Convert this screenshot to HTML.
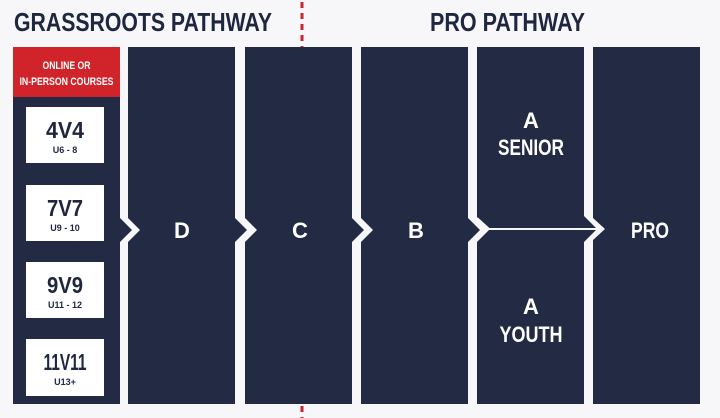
<!DOCTYPE html>
<html><head><meta charset="utf-8"><style>
html,body{margin:0;padding:0;background:#f7f7f9;}
svg{display:block}
text{font-family:"Liberation Sans Narrow","Liberation Sans",sans-serif;font-weight:bold;}
</style></head><body>
<svg width="720" height="418" viewBox="0 0 720 418">
<rect width="720" height="418" fill="#f7f7f9"/>
<line x1="302" y1="2" x2="302" y2="47" stroke="#c8262e" stroke-width="3" stroke-dasharray="6,5"/>
<line x1="302" y1="406" x2="302" y2="418" stroke="#c8262e" stroke-width="3" stroke-dasharray="6,5"/>
<text x="14" y="31" font-size="26" fill="#1f2640" textLength="258" lengthAdjust="spacingAndGlyphs">GRASSROOTS PATHWAY</text>
<text x="430" y="31" font-size="26" fill="#1f2640" textLength="155" lengthAdjust="spacingAndGlyphs">PRO PATHWAY</text>
<g fill="#222a44">
<polygon points="13,47 120,47 120,218 132,230 120,242 120,404 13,404"/>
<polygon points="128,47 235,47 235,218 247,230 235,242 235,404 128,404 128,242 140,230 128,218"/>
<polygon points="245,47 352,47 352,218 364,230 352,242 352,404 245,404 245,242 257,230 245,218"/>
<polygon points="361,47 468,47 468,218 480,230 468,242 468,404 361,404 361,242 373,230 361,218"/>
<polygon points="477,47 584,47 584,216 596,228 477,228 489,228 477,218"/>
<polygon points="477,230 596,230 584,242 584,404 477,404 477,242 489,230"/>
<polygon points="593,47 700,47 700,404 593,404 593,240 605,229 593,218"/>
</g>
<polyline points="477,218 489,229 596,229" fill="none" stroke="#f7f7f9" stroke-width="2"/>
<rect x="13" y="47" width="107" height="50" fill="#d0232a"/>
<text x="66.5" y="69" font-size="11" fill="#fff" text-anchor="middle" textLength="48" lengthAdjust="spacingAndGlyphs">ONLINE OR</text>
<text x="66.5" y="85" font-size="11" fill="#fff" text-anchor="middle" textLength="94" lengthAdjust="spacingAndGlyphs">IN-PERSON COURSES</text>
<g fill="#fff">
<rect x="26" y="107" width="78" height="56"/>
<rect x="26" y="185" width="78" height="56"/>
<rect x="26" y="262" width="78" height="56"/>
<rect x="26" y="339" width="78" height="57"/>
</g>
<g fill="#1f2640" text-anchor="middle">
<text x="65" y="138" font-size="23" textLength="38" lengthAdjust="spacingAndGlyphs">4V4</text><text x="65" y="153" font-size="9">U6 - 8</text>
<text x="65" y="216" font-size="23" textLength="36" lengthAdjust="spacingAndGlyphs">7V7</text><text x="65" y="231" font-size="9">U9 - 10</text>
<text x="65" y="293" font-size="23" textLength="36" lengthAdjust="spacingAndGlyphs">9V9</text><text x="65" y="308" font-size="9">U11 - 12</text>
<text x="65" y="370" font-size="23" textLength="43" lengthAdjust="spacingAndGlyphs">11V11</text><text x="65" y="385" font-size="9">U13+</text>
</g>
<g fill="#fff" text-anchor="middle" font-size="22">
<text x="182" y="238">D</text>
<text x="300" y="238">C</text>
<text x="416" y="238">B</text>
<text x="531" y="128">A</text>
<text x="531" y="155" textLength="66" lengthAdjust="spacingAndGlyphs">SENIOR</text>
<text x="531" y="314">A</text>
<text x="531" y="342" textLength="63" lengthAdjust="spacingAndGlyphs">YOUTH</text>
<text x="650" y="238" textLength="38" lengthAdjust="spacingAndGlyphs">PRO</text>
</g>
</svg>
</body></html>
